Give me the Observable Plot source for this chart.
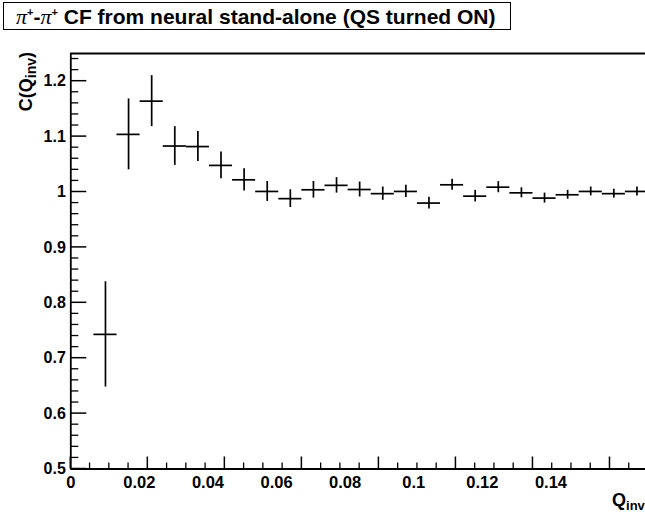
<!DOCTYPE html>
<html>
<head>
<meta charset="utf-8">
<script src="https://cdn.jsdelivr.net/npm/d3@7"></script>
<script src="https://cdn.jsdelivr.net/npm/@observablehq/plot@0.6"></script>
<style>
  html, body { margin: 0; padding: 0; background: #fff; overflow: hidden; }
  #wrap { position: relative; width: 645px; height: 517px; font-family: "Liberation Sans", Arial, sans-serif; }
  #chart { position: absolute; left: 0; top: 0; }
  #title {
    position: absolute; left: 3px; top: 2px; width: 494px; height: 26px;
    border: 1.5px solid #000; background: #fff;
    font-weight: bold; font-size: 21px; line-height: 27px; padding-left: 12px; box-sizing: content-box;
    white-space: nowrap; z-index: 2;
  }
  #title .pi { font-family: "Liberation Serif", "Times New Roman", serif; font-weight: normal; font-style: italic; font-size: 22px; }
  #title sup { font-size: 11px; vertical-align: 8px; line-height: 0; }
</style>
</head>
<body>
<div id="wrap">
  <div id="chart"></div>
  <div id="title"><span class="pi">π</span><sup>+</sup>-<span class="pi">π</span><sup>+</sup> CF from neural stand-alone (QS turned ON)</div>
</div>
<script>
// Bin centres (Q_inv) and correlation function values with errors
const qinv = [0.009, 0.015, 0.021, 0.027, 0.033, 0.039, 0.045, 0.051, 0.057, 0.063, 0.069, 0.075,
              0.081, 0.087, 0.093, 0.099, 0.105, 0.111, 0.117, 0.123, 0.129, 0.135, 0.141, 0.147];
const cf   = [0.743, 1.104, 1.164, 1.083, 1.082, 1.048, 1.022, 1.001, 0.988, 1.004, 1.012, 1.0045,
              0.997, 1.001, 0.980, 1.013, 0.9925, 1.0087, 0.9985, 0.989, 0.995, 1.001, 0.997, 1.001];
const cfErr = [0.095, 0.064, 0.046, 0.035, 0.027, 0.024, 0.020, 0.018, 0.016, 0.015, 0.014, 0.0135,
               0.012, 0.011, 0.0105, 0.010, 0.0105, 0.010, 0.009, 0.009, 0.008, 0.008, 0.008, 0.008];
const binWidth = 0.006;

// Axis ticks and labels
const yMajor = [0.5, 0.6, 0.7, 0.8, 0.9, 1.0, 1.1, 1.2];
const yMinor = [0.52, 0.54, 0.56, 0.58, 0.62, 0.64, 0.66, 0.68, 0.72, 0.74, 0.76, 0.78,
                0.82, 0.84, 0.86, 0.88, 0.92, 0.94, 0.96, 0.98, 1.02, 1.04, 1.06, 1.08,
                1.12, 1.14, 1.16, 1.18, 1.22, 1.24];
const xMajor = [0, 0.02, 0.04, 0.06, 0.08, 0.10, 0.12, 0.14];
const xMinor = [0.005, 0.01, 0.015, 0.025, 0.03, 0.035, 0.045, 0.05, 0.055, 0.065, 0.07, 0.075,
                0.085, 0.09, 0.095, 0.105, 0.11, 0.115, 0.125, 0.13, 0.135, 0.145];
const xLabels = [0, 0.02, 0.04, 0.06, 0.08, 0.1, 0.12, 0.14];
const labelShrink = 0.8905; // printed labels sit compressed relative to the tick marks in the original

const W = 645, H = 517, mL = 70.3, mR = -3, mT = 53, mB = 48.5;
const xDomain = [0, 0.15], yDomain = [0.5, 1.25];

const data = qinv.map((q, i) => ({x: q, y: cf[i], e: cfErr[i]}));
const fmt = d3.format("~g");

const plot = Plot.plot({
  width: W, height: H, marginLeft: mL, marginRight: mR, marginTop: mT, marginBottom: mB,
  style: {fontFamily: "'Liberation Sans', Arial, sans-serif", fontWeight: "bold", fontSize: "16px", background: "transparent", overflow: "visible"},
  x: {domain: xDomain, axis: null},
  y: {domain: yDomain, axis: null},
  marks: [
    Plot.ruleY([yDomain[1]], {stroke: "#000", strokeWidth: 1.8}),
    Plot.ruleX([xDomain[0]], {stroke: "#000", strokeWidth: 1.8}),
    Plot.ruleY([yDomain[0]], {stroke: "#000", strokeWidth: 1.8}),
    Plot.axisY(yMajor, {anchor: "left", tickSize: 0, tickPadding: 5, tickFormat: fmt, label: null, fontSize: 16, fontWeight: "bold"}),
    Plot.text(xLabels, {x: d => d * labelShrink, frameAnchor: "bottom", dy: 14, lineAnchor: "middle",
                        text: d => fmt(d), fontSize: 16.5, fontWeight: "bold"}),
    Plot.ruleX(data, {x: "x", y1: d => d.y - d.e, y2: d => d.y + d.e, stroke: "#000", strokeWidth: 1.7}),
    Plot.ruleY(data, {y: "y", x1: d => d.x - binWidth / 2, x2: d => d.x + binWidth / 2, stroke: "#000", strokeWidth: 1.7})
  ]
});
document.getElementById("chart").appendChild(plot);

// inward ticks, placed with Plot's own x and y scales
const sx = plot.scale("x"), sy = plot.scale("y");
const svg = d3.select(plot);
const tickG = svg.append("g").attr("class", "inward-ticks").attr("stroke", "#000").attr("fill", "none");
const x0 = sx.apply(xDomain[0]), y0 = sy.apply(yDomain[0]);
[...yMajor.map(v => [v, 16, 1.5]), ...yMinor.map(v => [v, 8, 1.3])].forEach(([v, len, sw]) => {
  const yy = sy.apply(v);
  tickG.append("line").attr("x1", x0).attr("x2", x0 + len).attr("y1", yy).attr("y2", yy).attr("stroke-width", sw);
});
[...xMajor.map(v => [v, 12, 1.5]), ...xMinor.map(v => [v, 6, 1.3])].forEach(([v, len, sw]) => {
  const xx = sx.apply(v);
  tickG.append("line").attr("x1", xx).attr("x2", xx).attr("y1", y0).attr("y2", y0 - len).attr("stroke-width", sw);
});

// axis titles as real text
const yTitle = svg.append("text")
  .attr("transform", "translate(32,52) rotate(-90)")
  .attr("text-anchor", "end")
  .attr("font-size", 18).attr("font-weight", "bold").attr("fill", "#000");
yTitle.append("tspan").text("C(Q");
yTitle.append("tspan").attr("font-size", 14).attr("dy", 4).text("inv");
yTitle.append("tspan").attr("dy", -4).text(")");

const xTitle = svg.append("text")
  .attr("x", 612).attr("y", 506)
  .attr("text-anchor", "start")
  .attr("font-size", 18).attr("font-weight", "bold").attr("fill", "#000");
xTitle.append("tspan").text("Q");
xTitle.append("tspan").attr("font-size", 13).attr("dy", 4).text("inv");
</script>
</body>
</html>
